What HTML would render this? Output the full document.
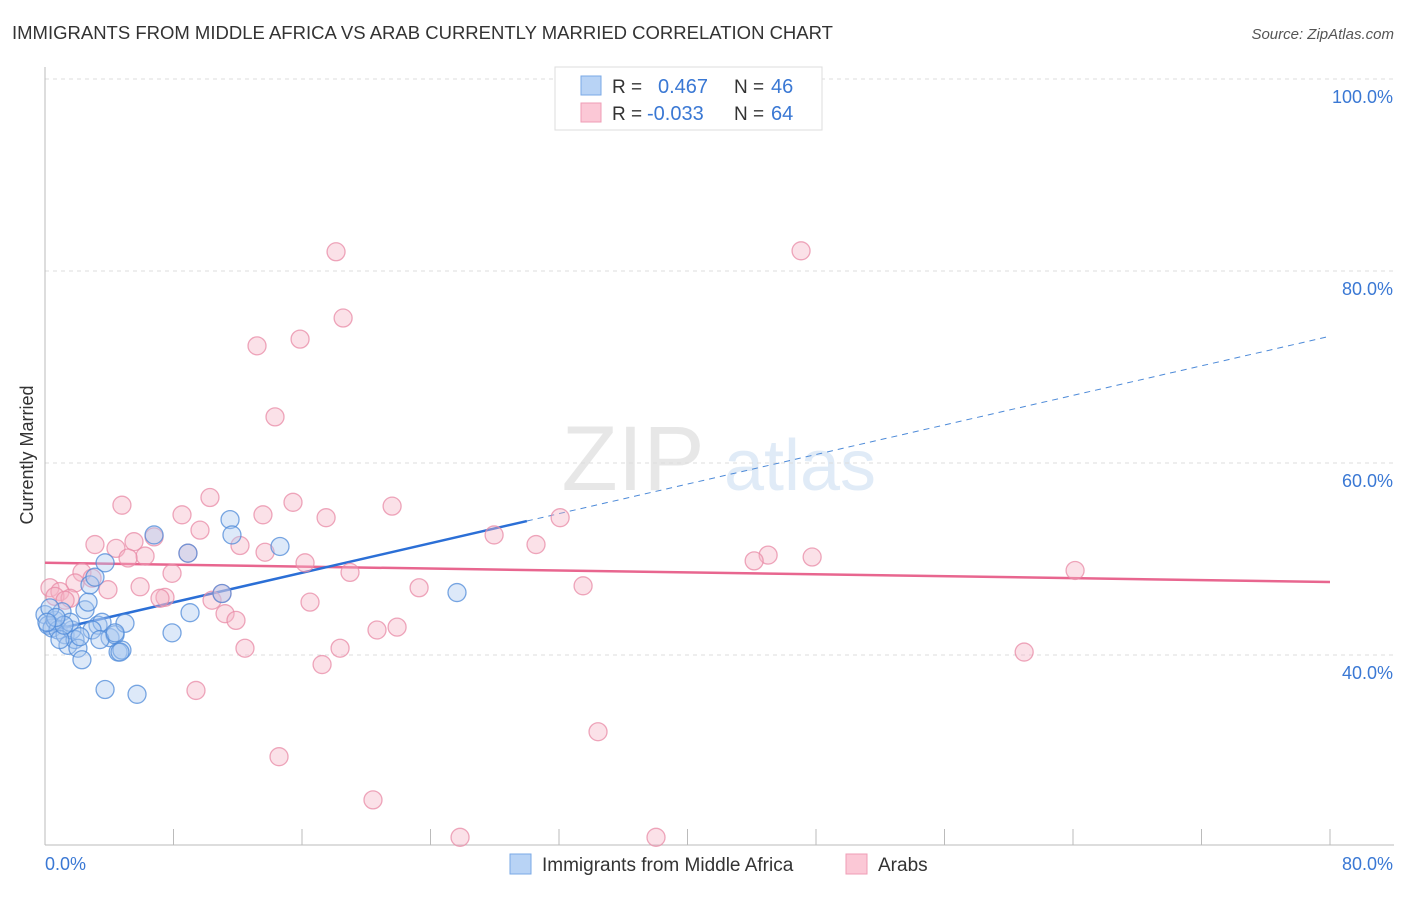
<!DOCTYPE html>
<html><head><meta charset="utf-8"><style>
body{margin:0;background:#fff;font-family:"Liberation Sans",sans-serif}
svg text{font-family:"Liberation Sans",sans-serif}
</style></head><body>
<svg id="chart" width="1406" height="892" viewBox="0 0 1406 892">
<text x="12" y="39" font-size="18.5" fill="#333">IMMIGRANTS FROM MIDDLE AFRICA VS ARAB CURRENTLY MARRIED CORRELATION CHART</text>
<text x="1394" y="39" font-size="15" fill="#555" font-style="italic" text-anchor="end">Source: ZipAtlas.com</text>
<text x="33" y="455" font-size="18" fill="#333" transform="rotate(-90 33 455)" text-anchor="middle">Currently Married</text>
<g opacity="0.45">
<text x="633" y="490" font-size="92" fill="#ccc" font-family="Liberation Serif" text-anchor="middle">ZIP</text>
<text x="800" y="490" font-size="72" fill="#bcd4ee" text-anchor="middle">atlas</text>
</g>
<g id="grid"></g><g id="axes"></g><g id="trend"></g><g id="pts"></g>
<g>
<rect x="555" y="67" width="267" height="63" fill="#fff" stroke="#ddd"/>
<rect x="581" y="76" width="20" height="19" fill="#b8d3f5" stroke="#7aa8e6"/>
<rect x="581" y="103" width="20" height="19" fill="#fbc8d6" stroke="#ef9db6"/>
<text x="612" y="93" font-size="19" fill="#333">R = </text><text x="658" y="93" font-size="20" fill="#3a78d4">0.467</text>
<text x="734" y="93" font-size="19" fill="#333">N = </text><text x="771" y="93" font-size="20" fill="#3a78d4">46</text>
<text x="612" y="120" font-size="19" fill="#333">R = </text><text x="647" y="120" font-size="20" fill="#3a78d4">-0.033</text>
<text x="734" y="120" font-size="19" fill="#333">N = </text><text x="771" y="120" font-size="20" fill="#3a78d4">64</text>
</g>
<g>
<rect x="510" y="854" width="21" height="20" fill="#b8d3f5" stroke="#7aa8e6"/>
<text x="542" y="871" font-size="19" fill="#333">Immigrants from Middle Africa</text>
<rect x="846" y="854" width="21" height="20" fill="#fbc8d6" stroke="#ef9db6"/>
<text x="878" y="871" font-size="19" fill="#333">Arabs</text>
</g>
</svg>
<script>
const blueX=[0,0.19,0.44,0.62,0.81,1.06,1.25,1.43,1.68,1.87,2.05,2.30,2.49,2.68,2.80,3.11,3.30,3.55,3.74,4.05,4.36,4.55,4.79,4.98,6.79,7.91,8.90,9.03,11.02,11.52,11.64,14.63,25.65,3.74,5.73,1.56,0.93,0.31,2.93,3.42,2.18,1.18,0.68,4.36,4.67,0.12];
const blueY=[44.2,43.1,42.8,43.6,42.6,44.5,42.1,41.0,42.6,41.6,40.7,39.5,44.7,45.5,47.3,48.1,43.1,43.4,49.6,41.8,42.1,40.3,40.5,43.3,52.5,42.3,50.6,44.4,46.4,54.1,52.5,51.3,46.5,36.4,35.9,43.4,41.6,44.9,42.6,41.6,41.9,43.1,43.9,42.3,40.3,43.4];
const pinkX=[18.12,47.07,18.56,13.20,15.88,14.32,4.79,10.27,15.44,21.61,8.53,13.57,17.50,32.07,6.79,9.65,3.11,5.54,6.23,4.42,5.17,8.90,12.14,13.70,27.96,30.57,45.02,44.15,47.76,64.13,16.19,2.30,7.91,2.93,1.87,0.31,0.93,3.92,5.92,7.47,7.16,10.40,11.21,11.89,16.50,23.29,33.50,18.99,12.45,18.37,20.67,21.92,17.25,60.96,9.40,34.43,14.57,20.42,25.84,38.04,11.02,0.62,1.56,1.25];
const pinkY=[82.0,82.1,75.1,72.2,72.9,64.8,55.6,56.4,55.9,55.5,54.6,54.6,54.3,54.3,52.3,53.0,51.5,51.8,50.3,51.1,50.1,50.6,51.4,50.7,52.5,51.5,50.4,49.8,50.2,48.8,49.6,48.6,48.5,48.0,47.5,47.0,46.6,46.8,47.1,46.0,45.9,45.7,44.3,43.6,45.5,47.0,47.2,48.6,40.7,40.7,42.6,42.9,39.0,40.3,36.3,32.0,29.4,24.9,21.0,21.0,46.4,46.1,45.9,45.7];
const yTicks=[40,60,80,100];
const xTickLabels=["0.0%","80.0%"];
const blueTrend=[42.4,73.2];
const pinkTrend=[49.6,47.6];
const blueSolidEnd=30;

const X0=45,X1=1330,Y0=79,Y1=845,XMAX=80,YMIN=20.2,YMAX=100;
const sx=v=>X0+(v/XMAX)*(X1-X0);
const sy=v=>Y0+(YMAX-v)/(YMAX-YMIN)*(Y1-Y0);
const NS="http://www.w3.org/2000/svg";
function mk(tag,attrs,parent){const e=document.createElementNS(NS,tag);for(const k in attrs)e.setAttribute(k,attrs[k]);parent.appendChild(e);return e;}
const grid=document.getElementById('grid'),axes=document.getElementById('axes'),trend=document.getElementById('trend'),pts=document.getElementById('pts');
yTicks.forEach(t=>{
 const l=mk('line',{x1:X0,x2:1394,y1:sy(t),y2:sy(t),stroke:'#ddd','stroke-dasharray':'4,4'},grid);
 
 
 const tx=mk('text',{x:1393,y:sy(t)+24,'font-size':18,fill:'#3a78d4','text-anchor':'end'},grid);
 tx.textContent=t.toFixed(1)+'%';
 
 
});
const ya=mk('line',{x1:X0,x2:X0,y1:67,y2:Y1,stroke:'#bbb'},axes);


const xa=mk('line',{x1:X0,x2:1394,y1:Y1,y2:Y1,stroke:'#bbb'},axes);


for(let i=0;i<=10;i++){
 const t=mk('line',{x1:sx(i*8),x2:sx(i*8),y1:Y1,y2:Y1-16,stroke:'#bbb'},axes);
 
 
}
const xl0=mk('text',{x:45,y:870,'font-size':18,fill:'#3a78d4'},axes);xl0.textContent=xTickLabels[0];


const xl1=mk('text',{x:1393,y:870,'font-size':18,fill:'#3a78d4','text-anchor':'end'},axes);xl1.textContent=xTickLabels[1];


function drawPts(xs,ys,fill,stroke,name){
 xs.forEach((x,i)=>{
  const c=mk('circle',{cx:sx(x),cy:sy(ys[i]),r:9,fill:fill,'fill-opacity':0.4,stroke:stroke,'stroke-opacity':0.75,'stroke-width':1.3},pts);
  
  
 });
}
drawPts(pinkX,pinkY,'#f6b3c6','#e889a6','arab-point');
drawPts(blueX,blueY,'#a9c8f0','#4d8ad8','middle-africa-point');
const bAt=x=>blueTrend[0]+(blueTrend[1]-blueTrend[0])*x/80;
const pt=mk('line',{x1:sx(0),y1:sy(pinkTrend[0]),x2:sx(80),y2:sy(pinkTrend[1]),stroke:'#e8668f','stroke-width':2.5},trend);


const bs=mk('line',{x1:sx(0),y1:sy(bAt(0)),x2:sx(blueSolidEnd),y2:sy(bAt(blueSolidEnd)),stroke:'#2b6fd6','stroke-width':2.5},trend);


const bd=mk('line',{x1:sx(blueSolidEnd),y1:sy(bAt(blueSolidEnd)),x2:sx(80),y2:sy(bAt(80)),stroke:'#4d8ad8','stroke-width':1,'stroke-dasharray':'6,5'},trend);


</script>
</body></html>
